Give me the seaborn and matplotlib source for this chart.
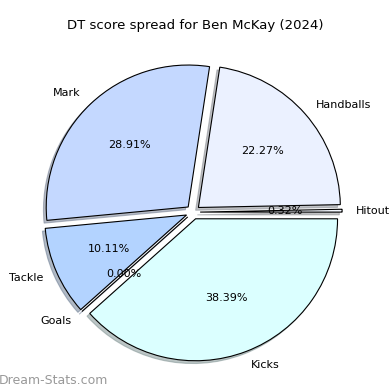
import matplotlib
matplotlib.use("Agg")
import matplotlib.pyplot as plt
import seaborn as sns

sns.set_style("white")

# counterclockwise from 0 degrees
labels = ["Hitout", "Handballs", "Mark", "Tackle", "Goals", "Kicks"]
values = [0.32, 22.27, 28.91, 10.11, 0.00, 38.39]
colors = ["#f4f8ff", "#ebf1ff", "#c4d8ff", "#b3d3ff", "#a8c8ff", "#dbffff"]
explode = [0.05] * len(values)

fig = plt.figure(figsize=(3.9, 3.9), dpi=100)
ax = fig.add_axes([0.040, 0.001, 0.910, 0.910])

ax.pie(
    values,
    labels=labels,
    colors=colors,
    explode=explode,
    autopct="%1.2f%%",
    startangle=0,
    shadow={"ox": -0.014, "oy": -0.014, "shade": 0.45},
    wedgeprops={"edgecolor": "black", "linewidth": 0.8},
    textprops={"fontsize": 8, "color": "black"},
)
ax.set_aspect("equal")

fig.text(0.5, 0.935, "DT score spread for Ben McKay (2024)", ha="center", va="center",
         fontsize=9.5, color="black")
fig.text(-0.003, 0.025, "Dream-Stats.com", ha="left", va="center", fontsize=9,
         color="#999999")

fig.savefig("out.png", dpi=100)
plt.close(fig)
